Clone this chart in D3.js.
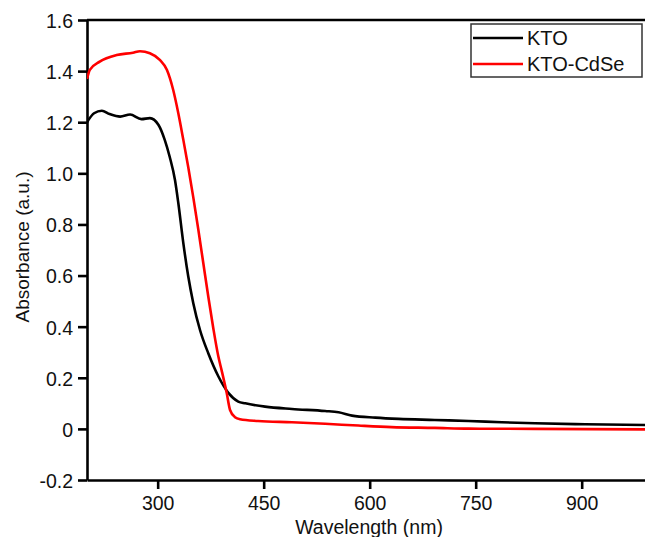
<html>
<head>
    <meta charset="utf-8">
    <script src="https://d3js.org/d3.v7.min.js"></script>
    <style type="text/css">
        body { margin: 0; background: #fff; }
        text { font-family: "Liberation Sans", Arial, sans-serif; fill: #111; }
        .axis path, .axis line { stroke: #000; stroke-width: 2.6; }
        .axis text { font-size: 19.5px; }
        path.curve { fill: none; stroke-width: 2.6; stroke-linejoin: round; }
    </style>
</head>
<body>
    <svg id="plot"></svg>
    <script>
        var SizeX = 645, SizeY = 537;
        var Margin = { left: 87, top: 20, bottom: 57 };

        // KTO (black)
        var kto_nm  = [200, 210, 221, 232, 247, 261, 277, 289, 301, 310, 317, 324.5, 329.2, 336.3, 343.3,
                       350.4, 359.9, 371.6, 385.8, 400, 414, 424, 452, 490, 537, 556, 575, 608, 641, 692, 740, 787, 834, 905, 1000];
        var kto_abs = [1.20, 1.235, 1.245, 1.232, 1.222, 1.230, 1.212, 1.216, 1.190, 1.131, 1.065, 0.974, 0.884, 0.727, 0.596,
                       0.492, 0.387, 0.296, 0.206, 0.141, 0.107, 0.100, 0.087, 0.078, 0.070, 0.065, 0.052, 0.044, 0.039, 0.035, 0.031, 0.026, 0.022, 0.018, 0.015];

        // KTO-CdSe (red)
        var cdse_nm  = [200, 204, 218, 242, 265, 275, 289, 303, 313, 322, 329.2, 336.3, 343.3, 350.4, 357.5, 364.6, 371.6,
                        378.7, 385.8, 390.6, 397.7, 402.4, 409.4, 416.5, 442, 490, 537, 584, 631, 692, 740, 834, 1000];
        var cdse_abs = [1.369, 1.405, 1.437, 1.463, 1.472, 1.478, 1.470, 1.444, 1.405, 1.326, 1.235, 1.131, 1.024, 0.906, 0.780, 0.648, 0.518,
                        0.394, 0.284, 0.228, 0.140, 0.074, 0.046, 0.038, 0.031, 0.026, 0.020, 0.013, 0.007, 0.004, 0.001, 0.000, -0.002];

        var x_ticks = [300, 450, 600, 750, 900];
        var y_ticks = [-0.2, 0, 0.2, 0.4, 0.6, 0.8, 1.0, 1.2, 1.4, 1.6];
        var series_names = ["KTO", "KTO-CdSe"];
        var series_colors = ["#000000", "#ff0000"];

        var svg = d3.select("#plot")
            .attr("width", SizeX)
            .attr("height", SizeY);

        var x_scale = d3.scaleLinear()
            .domain([200, 1000])
            .range([Margin.left, Margin.left + 800 * 0.7067]);

        var y_scale = d3.scaleLinear()
            .domain([-0.2, 1.6])
            .range([SizeY - Margin.bottom, Margin.top]);

        // frame top line
        svg.append("line")
            .attr("x1", x_scale(200)).attr("x2", x_scale(1000))
            .attr("y1", y_scale(1.6)).attr("y2", y_scale(1.6))
            .attr("stroke", "#000").attr("stroke-width", 2.6);

        var x_axis = d3.axisBottom(x_scale)
            .tickValues(x_ticks)
            .tickSize(9).tickSizeOuter(0).tickPadding(7)
            .tickFormat((d) => String(d));
        svg.append("g").classed("axis", true)
            .attr("transform", "translate(0 " + y_scale(-0.2) + ")")
            .call(x_axis);

        var y_axis = d3.axisLeft(y_scale)
            .tickValues(y_ticks)
            .tickSize(9).tickSizeOuter(0).tickPadding(5)
            .tickFormat((d) => d === 0 ? "0" : d.toFixed(1));
        svg.append("g").classed("axis", true)
            .attr("transform", "translate(" + x_scale(200) + " 0)")
            .call(y_axis)
            .selectAll("text").attr("dy", "0.38em");

        svg.append("text")
            .attr("x", 369).attr("y", 534)
            .attr("text-anchor", "middle")
            .style("font-size", "19.5px")
            .text("Wavelength (nm)");

        svg.append("text")
            .attr("transform", "translate(29 247) rotate(-90)")
            .attr("text-anchor", "middle")
            .style("font-size", "19px")
            .text("Absorbance (a.u.)");

        var line = d3.line()
            .x((d) => x_scale(d[0]))
            .y((d) => y_scale(d[1]))
            .curve(d3.curveMonotoneX);

        var series = [
            d3.zip(kto_nm, kto_abs),
            d3.zip(cdse_nm, cdse_abs)
        ];

        svg.append("clipPath").attr("id", "clip")
            .append("rect")
            .attr("x", x_scale(200)).attr("y", y_scale(1.6))
            .attr("width", x_scale(1000) - x_scale(200))
            .attr("height", y_scale(-0.2) - y_scale(1.6));

        svg.append("g").attr("clip-path", "url(#clip)")
            .selectAll("path.curve")
            .data(series)
            .enter()
                .append("path").classed("curve", true)
                .attr("d", line)
                .attr("stroke", (d, i) => series_colors[i]);

        // legend
        var legend = svg.append("g").attr("transform", "translate(471 24)");
        legend.append("rect")
            .attr("width", 171).attr("height", 53)
            .attr("fill", "#fff")
            .attr("stroke", "#333").attr("stroke-width", 1.5);
        var items = legend.selectAll("g.item")
            .data(series_names)
            .enter()
                .append("g").classed("item", true)
                .attr("transform", (d, i) => "translate(0 " + (14 + i * 26) + ")");
        items.append("line")
            .attr("x1", 2).attr("x2", 52)
            .attr("stroke-width", 2.6)
            .attr("stroke", (d, i) => series_colors[i]);
        items.append("text")
            .attr("x", 56).attr("dy", "0.36em")
            .style("font-size", "20px")
            .text((d) => d);
    </script>
</body>
</html>
